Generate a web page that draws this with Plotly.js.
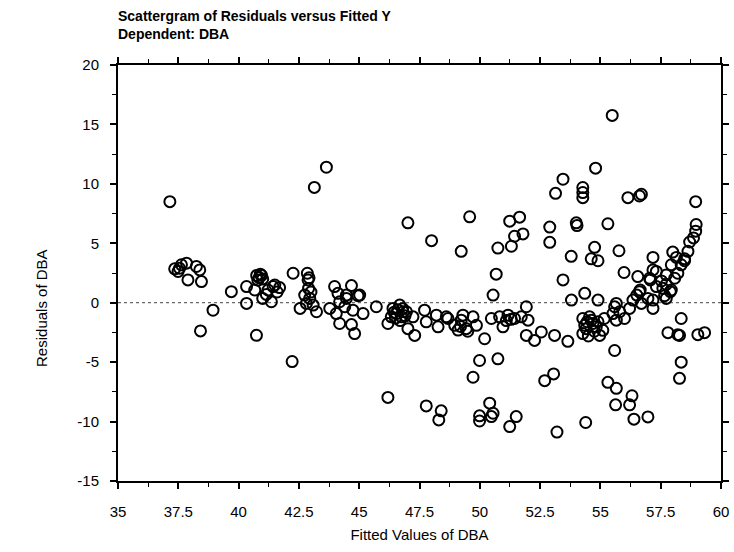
<!DOCTYPE html>
<html>
<head>
<meta charset="utf-8">
<script src="https://cdn.plot.ly/plotly-3.0.1.min.js"></script>
<style>html,body{margin:0;padding:0;background:#fff;}#chart{width:734px;height:552px;}</style>
</head>
<body>
<div id="chart"></div>
<script>
// Fitted values of DBA (x) and residuals of DBA (y)
const fittedValues = [
37.15,37.35,37.49,37.63,37.84,38.25,38.39,37.9,38.46,37.55,
38.94,38.42,39.7,40.33,40.33,40.74,
40.75,40.85,40.95,40.8,40.9,41.0,
40.67,41.0,41.36,41.22,41.5,41.7,41.43,41.15,41.6,
42.22,42.26,42.55,42.85,42.88,42.92,42.74,42.95,43.09,43.23,42.81,42.9,43.0,
43.14,43.64,
43.78,43.98,44.12,44.19,44.47,44.68,44.95,44.74,45.16,44.05,44.19,44.68,44.81,44.47,44.4,45.02,
45.71,46.19,46.19,
46.4,46.54,46.75,47.02,47.3,46.68,46.96,46.33,46.5,46.6,46.8,46.45,46.7,46.9,
47.02,46.82,47.23,47.71,47.78,47.78,48.0,48.2,48.27,48.4,48.3,48.61,48.68,48.96,49.23,49.3,49.44,49.1,49.2,49.5,
49.23,49.58,49.72,49.86,49.72,49.99,49.99,49.99,50.2,50.41,50.55,50.48,
50.48,50.55,50.68,50.75,50.75,50.82,50.96,51.17,51.44,51.72,51.1,51.3,
51.24,51.65,51.44,51.79,51.31,51.24,51.51,
51.93,52.0,51.93,52.27,52.55,52.69,53.06,52.9,52.9,53.1,53.2,53.14,53.45,53.45,53.65,53.79,53.8,
54.0,54.03,54.27,54.27,54.27,54.35,54.39,
54.27,54.55,54.69,54.41,54.83,55.1,54.97,54.27,54.62,55.16,54.45,54.75,54.5,54.9,54.35,
54.8,54.76,54.62,54.9,54.9,55.31,55.49,
55.59,55.8,56.0,55.52,55.66,55.59,55.31,55.66,55.63,55.77,55.66,55.98,
56.14,56.62,56.7,56.31,56.21,56.39,56.97,56.55,
56.35,56.51,56.7,56.97,57.18,56.65,56.21,56.62,
57.04,57.18,57.18,57.32,57.07,57.32,57.53,57.73,57.9,57.66,57.59,57.73,57.94,57.94,57.73,57.18,
58.08,58.21,58.35,58.49,58.0,58.15,58.49,58.63,58.7,58.86,58.95,58.97,58.95,
57.8,58.21,58.35,58.28,58.35,58.28,59.04,59.32
];
const residuals = [
8.5,2.85,2.63,3.19,3.33,3.05,2.76,1.92,1.78,2.9,
-0.63,-2.37,0.93,1.36,-0.06,-2.74,
2.3,2.1,2.3,1.9,2.4,2.0,
1.07,0.36,0.08,1.07,1.49,1.27,1.36,0.7,0.9,
-4.95,2.48,-0.48,2.48,1.92,2.1,0.64,0.36,-0.2,-0.76,-0.06,1.2,0.9,
9.7,11.4,
-0.48,1.36,0.79,0.08,0.36,1.44,0.59,-0.63,-0.91,-0.91,-1.75,-1.84,-2.6,0.64,-0.34,0.64,
-0.34,-1.75,-7.97,
-0.48,-0.91,-1.19,-2.18,-2.75,-0.2,-0.76,-1.19,-1.3,-0.6,-0.5,-0.8,-1.5,-1.1,
6.72,-0.76,-1.19,-0.63,-1.61,-8.68,5.22,-1.05,-2.03,-9.1,-9.86,-1.19,-1.33,-1.9,-1.47,-1.05,-2.18,-2.3,-2.0,-2.4,
4.32,7.23,-1.19,-1.9,-6.27,-4.86,-9.52,-9.95,-3.03,-8.45,-9.3,-9.58,
-1.33,0.64,2.4,4.6,-4.72,-1.19,-2.03,-1.05,-1.33,-1.19,-1.5,-1.4,
6.86,7.2,5.59,5.79,4.75,-10.42,-9.58,
-0.34,-1.47,-2.75,-3.17,-2.46,-6.56,-5.99,6.36,5.08,-2.75,-10.88,9.2,10.39,1.92,-3.25,3.9,0.22,
6.72,6.49,9.69,9.27,8.84,0.79,-10.08,
-1.33,-1.19,-1.75,-2.18,-2.03,-2.32,-2.75,-2.6,-1.47,-1.33,-1.6,-2.4,-2.8,-1.6,-1.9,
11.32,4.66,3.69,3.53,0.22,6.64,15.76,
-0.34,-0.76,-1.33,-0.91,-1.47,-4.02,-6.7,-7.2,-8.59,4.37,-0.06,2.54,
8.84,8.98,9.12,-7.83,-8.59,-9.8,-9.61,2.2,
0.22,0.64,-0.06,0.36,-0.48,1.07,-0.48,0.93,
2.06,2.76,3.81,2.63,1.92,1.36,1.83,1.55,0.93,0.59,1.21,2.34,3.19,1.07,0.36,0.22,
2.06,2.48,3.19,3.53,4.26,3.81,3.69,4.32,5.11,5.45,6.02,6.58,8.5,
-2.52,-2.69,-1.33,-2.75,-5.0,-6.36,-2.69,-2.52
];
const xTickValues = [35,37.5,40,42.5,45,47.5,50,52.5,55,57.5,60];
const xTickLabels = ["35","37.5","40","42.5","45","47.5","50","52.5","55","57.5","60"];
const yTickValues = [-15,-10,-5,0,5,10,15,20];
const yTickLabels = ["-15","-10","-5","0","5","10","15","20"];

const fontFam = "Liberation Sans, Arial, Helvetica, sans-serif";

const trace = {
  type: "scatter",
  mode: "markers",
  x: fittedValues,
  y: residuals,
  marker: {symbol: "circle-open", size: 11, color: "#000", line: {width: 2, color: "#000"}},
  hoverinfo: "x+y",
  showlegend: false
};

const axisCommon = {
  showgrid: false,
  zeroline: false,
  showline: true,
  linecolor: "#000",
  linewidth: 2,
  mirror: "allticks",
  ticks: "outside",
  ticklen: 6,
  tickwidth: 2,
  tickcolor: "#000",
  tickfont: {family: fontFam, size: 15, color: "#000"}
};

const layout = {
  width: 734,
  height: 552,
  paper_bgcolor: "#fff",
  plot_bgcolor: "#fff",
  margin: {l: 118, r: 13, t: 65, b: 71},
  font: {family: fontFam, color: "#000"},
  title: {
    text: "<b>Scattergram of Residuals versus Fitted Y<br>Dependent: DBA</b>",
    font: {family: fontFam, size: 14, color: "#000"},
    xref: "paper", x: 0, xanchor: "left",
    yref: "container", y: 0.962, yanchor: "middle"
  },
  xaxis: Object.assign({}, axisCommon, {
    range: [35, 60],
    tickmode: "array",
    tickvals: xTickValues,
    ticktext: xTickLabels,
    ticklabelstandoff: 10,
    minor: {dtick: 1.25, ticklen: 4, tickwidth: 1, tickcolor: "#000", ticks: "outside"},
    title: {text: "Fitted Values of DBA", font: {family: fontFam, size: 15, color: "#000"}, standoff: 10}
  }),
  yaxis: Object.assign({}, axisCommon, {
    range: [-15, 20],
    tickmode: "array",
    tickvals: yTickValues,
    ticktext: yTickLabels,
    ticklabelstandoff: 8,
    minor: {dtick: 2.5, ticklen: 4, tickwidth: 1, tickcolor: "#000", ticks: "outside"}
  }),
  shapes: [{
    type: "line", xref: "paper", x0: 0, x1: 1, yref: "y", y0: 0, y1: 0,
    line: {color: "#444", width: 1, dash: "dot"}, layer: "below"
  }],
  annotations: [{
    text: "Residuals of DBA",
    textangle: -90,
    xref: "paper", x: -0.126, xanchor: "center",
    yref: "paper", y: 0.416, yanchor: "middle",
    showarrow: false,
    font: {family: fontFam, size: 15, color: "#000"}
  }]
};

Plotly.newPlot("chart", [trace], layout, {displayModeBar: false, staticPlot: true});
</script>
</body>
</html>
